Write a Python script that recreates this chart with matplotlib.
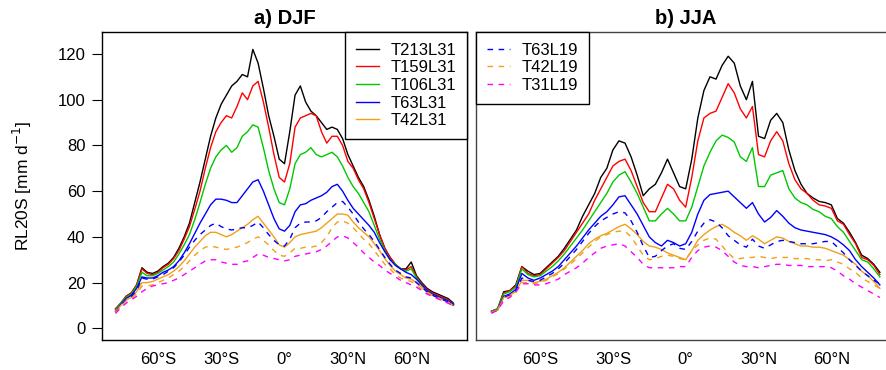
import matplotlib
matplotlib.use("Agg")
import matplotlib.pyplot as plt
import numpy as np

plt.rcParams['font.family'] = ['Liberation Sans', 'DejaVu Sans']

# latitude grid (deg, south negative)
lat = np.arange(-80, 80.1, 2.5)

# ---- DJF ----
djf_t213l31 = [8.5, 11, 14, 15.5, 19, 26.5, 24.5, 24, 25, 27, 28.5, 31, 35, 40, 46, 55, 64, 74, 84, 92,
               98, 102, 106, 108, 111, 110, 122, 116, 105, 93, 84, 74, 72, 86, 102, 106, 99, 95, 93, 90,
               87, 88, 87, 83, 76, 71, 66, 62, 56, 49, 41, 35, 31, 28, 26, 26, 29, 23, 20, 17.5,
               16, 15, 14, 13, 11]
djf_t159l31 = [8.5, 11, 14, 15.5, 19, 26, 24, 23.5, 24.5, 26.5, 28, 30.5, 34, 39, 44.5, 52, 60, 70, 79, 86,
               90, 93, 92, 97, 103, 100, 106, 108, 99, 88, 76, 66, 64, 72, 88, 92, 93, 94, 93, 86,
               81, 84, 84, 80, 73, 70, 65, 61, 55, 48, 41, 35, 31, 28, 26, 25.5, 27, 22.5, 19.5, 17,
               15.5, 14.5, 13.5, 12.5, 10.5]
djf_t106l31 = [8, 11, 13.5, 15, 18.5, 24.5, 23, 23, 24, 25.5, 27, 29, 32.5, 36.5, 41, 47.5, 55, 63, 70, 75,
               78, 80, 77, 79, 84, 86, 89, 88, 79, 69, 61, 55, 54, 61, 72, 76, 77, 79, 76, 75,
               76, 77, 75, 71, 66, 62, 59, 55, 51, 45, 39, 34, 30, 28, 26, 25, 26, 22, 19, 16.5,
               15, 14, 13, 12, 10.5]
djf_t63l31 = [7.5, 10.5, 13, 14.5, 17.5, 22.5, 22, 22, 23, 24.5, 25.5, 27, 29.5, 33, 37, 41.5, 46, 50, 54, 56.5,
              56.5, 56, 55, 55, 58, 61, 64, 65, 60, 54, 48, 43.5, 42.5, 45, 51, 54, 54.5, 56, 57, 58,
              59.5, 62, 63, 60, 56, 52.5, 50, 47.5, 45, 42, 37.5, 33.5, 30, 27.5, 26, 24.5, 23.5, 21.5, 19, 16.5,
              15, 14, 13, 12, 10.5]
djf_t42l31 = [7.5, 10, 12.5, 13.5, 16, 20, 20, 20.5, 21.5, 22.5, 23.5, 25, 27, 29.5, 32.5, 35.5, 38, 40.5, 42, 42,
              41, 40, 41, 42.5, 44, 45.5, 47.5, 49, 46, 43, 40, 36.5, 35.5, 37.5, 40, 41, 41.5, 42, 42.5, 44,
              46, 48, 50, 50, 49.5, 46.5, 44, 42, 40, 37, 34, 30.5, 27.5, 25, 23.5, 22, 21.5, 20, 18, 16,
              14.5, 13.5, 12.5, 11.5, 10]
djf_t63l19 = [7, 10, 12.5, 14, 16.5, 22, 21.5, 21.5, 22.5, 23.5, 25, 26.5, 29, 32, 35.5, 38.5, 41, 43, 45, 46,
              44.5, 43.5, 43, 43.5, 44, 44, 45, 46.5, 44, 41, 38.5, 36.5, 36, 39, 44, 46, 46.5, 46.5, 47, 48.5,
              51, 53, 55, 55.5, 53, 50, 46.5, 43.5, 41, 38, 34.5, 31, 28, 25.5, 24, 22.5, 22, 20, 18, 16,
              14.5, 13.5, 12.5, 11.5, 10]
djf_t42l19 = [7, 9.5, 12, 13, 15, 18.5, 18.5, 19, 20, 21, 22, 23.5, 25, 27, 29.5, 32, 34, 35.5, 36, 35.5,
              35, 34.5, 35, 35.5, 36.5, 37.5, 39, 40, 38.5, 36.5, 34, 32, 31.5, 33, 35, 35, 35.5, 35.5, 36, 37.5,
              40, 44, 46.5, 47, 46, 44, 41.5, 39, 37, 34, 31, 28, 26, 23.5, 22, 21, 20.5, 19, 17, 15.5,
              14, 13, 12, 11, 9.5]
djf_t31l19 = [6.5, 9, 11, 12.5, 14, 16, 17.5, 18.5, 19, 19.5, 20, 21, 22, 23.5, 25, 26.5, 28, 29.5, 30, 30,
              29, 28.5, 28, 28, 29, 29.5, 31, 32.5, 32, 31, 30.5, 30, 29.5, 30, 31.5, 32, 32.5, 33, 33.5, 34.5,
              36, 38, 40, 40.5, 39.5, 37.5, 35.5, 33, 31, 29, 27.5, 25.5, 24, 22.5, 21, 20, 19, 18, 16.5, 15,
              14, 13, 12, 11, 10]

# ---- JJA ----
jja_t213l31 = [7.5, 8.5, 16, 16.5, 19, 27, 25, 23.5, 24, 26.5, 29, 31.5, 35, 39, 43, 49, 54, 59, 66, 70,
               78, 82, 81, 75, 67, 58, 61, 63, 68, 74, 68, 62, 61, 74, 92, 104, 110, 109, 115, 119,
               116, 106, 100, 108, 84, 83, 91, 94, 90, 78, 69, 63, 59, 57, 55.5, 55, 54, 48, 46, 42,
               37.5, 32, 30.5, 28, 24.5]
jja_t159l31 = [7.5, 8.5, 15.5, 16.5, 18.5, 27, 24, 23, 23.5, 26, 28.5, 31, 34, 38, 42, 46, 50, 56, 61, 66,
               71, 73, 74, 69, 62, 55, 51, 51, 57, 63, 61, 56, 53, 66, 82, 92, 94, 95, 101, 107,
               103, 96, 92, 97, 76, 75, 82, 86, 82, 72, 65, 61, 59, 56, 54, 53.5, 52.5, 47, 45.5, 41,
               37, 31, 30, 27.5, 23.5]
jja_t106l31 = [7.5, 8.5, 15, 16, 18, 26, 23.5, 22.5, 23, 25, 27, 29.5, 32.5, 36, 39.5, 43, 47, 51, 55, 59,
               64, 67, 68.5, 64, 59, 53, 47, 47, 50, 52.5, 50, 47, 47, 53, 62, 71, 77, 82, 84.5, 83.5,
               81.5, 75, 73, 79, 62, 62, 67, 68, 69, 61, 57, 55, 54, 52, 51, 49, 48, 44.5, 42, 38,
               34, 30, 29, 26, 22.5]
jja_t63l31 = [7, 8, 14, 15, 17, 24, 22, 21, 22, 23.5, 25, 27, 30, 33, 36, 39.5, 43, 46, 49, 51,
              54, 57.5, 58, 54, 50, 45, 40, 37.5, 36, 38.5, 37.5, 36, 37, 42, 50, 56, 58.5, 59, 59.5, 60,
              57.5, 55, 52.5, 55, 50, 46.5, 48.5, 51.5, 49, 46, 44, 43, 42.5, 42, 41.5, 41, 40, 38.5, 36.5, 34,
              30, 27, 24.5, 22, 19]
jja_t42l31 = [7, 8, 13.5, 14.5, 16, 21, 21, 20, 20.5, 21.5, 23, 24.5, 26.5, 29, 31.5, 34, 37, 39, 40.5, 41.5,
              43, 44.5, 45.5, 43.5, 41, 38, 36, 35.5, 34.5, 33, 32, 31, 30, 34, 38.5, 41, 43, 44.5, 45.5, 44,
              42, 40.5, 38.5, 40.5, 39, 37, 38.5, 40, 39.5, 38, 37, 36, 36, 35.5, 35.5, 35, 34, 33, 32, 30,
              28, 25, 23, 20.5, 17.5]
jja_t63l19 = [7, 8, 13.5, 14.5, 16.5, 22, 21, 20.5, 21, 22.5, 24, 26, 28.5, 31.5, 34.5, 38, 41.5, 44.5, 47, 48.5,
              50, 51, 50.5, 47, 42, 36, 31, 31.5, 34, 36, 37, 35, 34.5, 38, 42.5, 46, 47.5, 46.5, 44, 40.5,
              38.5, 36.5, 35.5, 39, 36, 35, 36.5, 38, 38.5, 38, 37.5, 37, 37, 37, 37.5, 38, 38, 35.5, 33, 30,
              27.5, 25, 23, 21, 19.5]
jja_t42l19 = [7, 8, 13, 14, 15.5, 20, 20, 19.5, 20, 21, 22.5, 24, 26, 28, 30.5, 33, 35.5, 38, 40, 41,
              42, 42.5, 42.5, 40, 36, 32, 30, 30.5, 31.5, 32, 31.5, 30.5, 30, 34, 36.5, 38.5, 39.5, 39, 36, 33,
              30.5, 30.5, 31, 31, 31.5, 31, 30.5, 31, 31, 31, 30.5, 30.5, 30.5, 30, 30, 29.5, 30, 29, 28, 26,
              24.5, 22, 20.5, 19, 17.5]
jja_t31l19 = [6.5, 8, 12, 13.5, 16, 19.5, 19.5, 19, 19, 19.5, 20.5, 21.5, 23.5, 25, 26.5, 28.5, 31, 33, 35, 36,
              36.5, 37, 36, 33.5, 31, 28, 26.5, 26.5, 26.5, 26.5, 26.5, 27, 27, 31, 34, 35.5, 36, 35.5, 34, 31.5,
              29, 27.5, 27, 27, 26.5, 27, 27.5, 28, 28, 27.5, 27.5, 27.5, 27, 27, 27, 27, 26.5, 25, 23, 21.5,
              19.5, 18, 16.5, 15, 13.5]

runs = ["T213L31", "T159L31", "T106L31", "T63L31", "T42L31", "T63L19", "T42L19", "T31L19"]
cols = ["black", "#FF0000", "#00C800", "#0000FF", "#F0A018", "#0000FF", "#F0A018", "#FF00FF"]
styles = ["-", "-", "-", "-", "-", "--", "--", "--"]
djf = [djf_t213l31, djf_t159l31, djf_t106l31, djf_t63l31, djf_t42l31, djf_t63l19, djf_t42l19, djf_t31l19]
jja = [jja_t213l31, jja_t159l31, jja_t106l31, jja_t63l31, jja_t42l31, jja_t63l19, jja_t42l19, jja_t31l19]

xticks = [-60, -30, 0, 30, 60]
xticklabels = ["60°S", "30°S", "0°", "30°N", "60°N"]

fig = plt.figure(figsize=(8.87, 3.70), dpi=100)
ax1 = fig.add_axes([102 / 887, 30 / 370, 365 / 887, 308 / 370])
ax2 = fig.add_axes([476 / 887, 30 / 370, 419.4 / 887, 308 / 370])

for ax, data, title in [(ax1, djf, "a) DJF"), (ax2, jja, "b) JJA")]:
    for vals, name, c, ls in zip(data, runs, cols, styles):
        ax.plot(lat, vals, color=c, ls=ls, lw=1.0, dashes=(4, 4) if ls == "--" else (None, None),
                label=name)
    ax.set_xlim(-86.4, 86.4)
    ax.set_ylim(-5.1, 129.6)
    ax.set_xticks(xticks)
    ax.set_xticklabels(xticklabels, fontsize=12)
    ax.tick_params(axis="x", length=0, pad=9)
    ax.set_title(title, fontsize=14.5, fontweight="bold", pad=6)
    for s in ax.spines.values():
        s.set_linewidth(1.0)

# left panel: y axis
ax1.set_yticks(np.arange(0, 121, 20))
ax1.tick_params(axis="y", labelsize=12, length=7, width=0.8, pad=5)
ax1.set_ylabel("RL20S [mm d$^{-1}$]", fontsize=12.5, labelpad=17)
ax2.set_yticks([])
for s in ax2.spines.values():
    s.set_color("#444444")

leg_kw = dict(fontsize=12, frameon=True, fancybox=False, framealpha=1, edgecolor="black",
              borderaxespad=0, handlelength=1.4, handletextpad=0.68, labelspacing=0.16, borderpad=0.64)
leg1 = ax1.legend(ax1.get_lines()[:5], runs[:5], loc="upper right", **leg_kw)
leg1.get_frame().set_linewidth(1.0)
leg2 = ax2.legend(ax2.get_lines()[5:], runs[5:], loc="upper left", **leg_kw)
leg2.get_frame().set_linewidth(1.0)

fig.savefig("out.png", dpi=100)
